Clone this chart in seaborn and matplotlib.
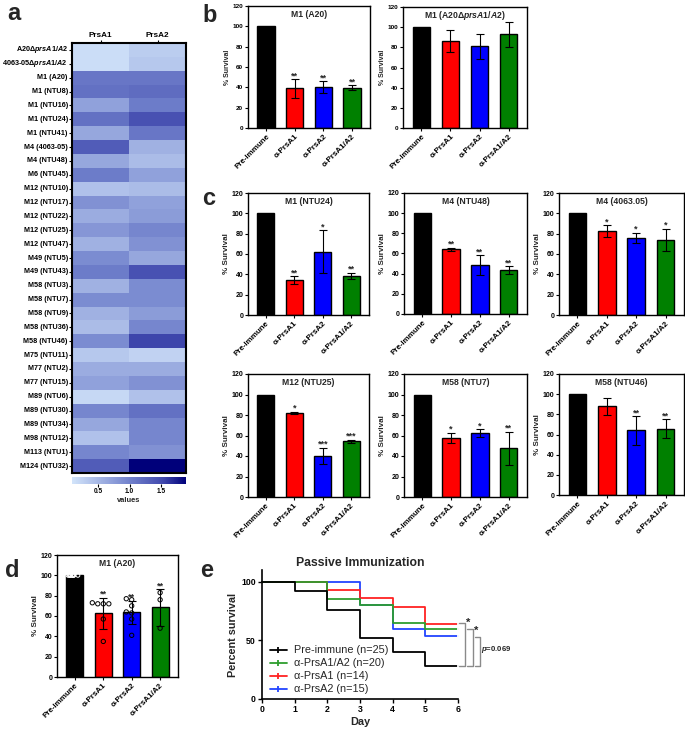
import numpy as np
import pandas as pd
import matplotlib
matplotlib.use("Agg")
import matplotlib.pyplot as plt
import seaborn as sns
from matplotlib.colors import LinearSegmentedColormap
from matplotlib.lines import Line2D

sns.set_style("ticks")
plt.rcParams.update({
    "font.family": ["Liberation Sans", "DejaVu Sans"],
    "font.weight": "bold",
    "axes.labelweight": "bold",
    "mathtext.fontset": "custom",
    "mathtext.rm": "Liberation Sans:bold",
    "mathtext.it": "Liberation Sans:italic:bold",
    "mathtext.bf": "Liberation Sans:bold",
    "axes.linewidth": 1.0,
    "axes.edgecolor": "black",
    "xtick.color": "black",
    "ytick.color": "black",
})

# ---------------- Panel a data ----------------
strains = ["A20Δ$\\mathit{prsA1/A2}$", "4063-05Δ$\\mathit{prsA1/A2}$", "M1 (A20)", "M1 (NTU8)",
           "M1 (NTU16)", "M1 (NTU24)", "M1 (NTU41)", "M4 (4063-05)", "M4 (NTU48)", "M6 (NTU45)",
           "M12 (NTU10)", "M12 (NTU17)", "M12 (NTU22)", "M12 (NTU25)", "M12 (NTU47)",
           "M49 (NTU5)", "M49 (NTU43)", "M58 (NTU3)", "M58 (NTU7)", "M58 (NTU9)",
           "M58 (NTU36)", "M58 (NTU46)", "M75 (NTU11)", "M77 (NTU2)", "M77 (NTU15)",
           "M89 (NTU6)", "M89 (NTU30)", "M89 (NTU34)", "M98 (NTU12)", "M113 (NTU1)",
           "M124 (NTU32)"]
prsa1_vals = [0.15, 0.15, 1.10, 1.15, 0.70, 1.15, 0.65, 1.35, 0.65, 1.05,
              0.40, 0.85, 0.60, 0.80, 0.55, 0.90, 1.05, 0.55, 0.90, 0.55,
              0.45, 0.90, 0.35, 0.60, 0.70, 0.20, 0.95, 0.65, 0.40, 0.95, 1.35]
prsa2_vals = [0.30, 0.35, 1.10, 1.20, 1.05, 1.45, 1.10, 0.55, 0.45, 0.70,
              0.45, 0.70, 0.75, 0.95, 0.85, 0.65, 1.45, 0.90, 0.90, 0.75,
              0.95, 1.55, 0.25, 0.60, 0.85, 0.40, 1.15, 0.95, 0.95, 0.85, 1.90]
heat_cols = ["PrsA1", "PrsA2"]
cbar_ticks = [0.5, 1.0, 1.5]

# ---------------- Bar panels data ----------------
groups = ["Pre-immune", "α-PrsA1", "α-PrsA2", "α-PrsA1/A2"]
bar_colors = ["#000000", "#ff0000", "#0000ff", "#008000"]

b1_title = "M1 (A20)"
b1_mean = [100, 39, 40, 39.5]
b1_err = [0, 9, 6, 2.5]
b1_sig = ["", "**", "**", "**"]

b2_title = "M1 (A20Δ$\\mathit{prsA1/A2}$)"
b2_mean = [100, 86, 81, 93]
b2_err = [0, 11, 12.5, 12.5]
b2_sig = ["", "", "", ""]

c1_title = "M1 (NTU24)"
c1_mean = [100, 34.3, 62.3, 38.5]
c1_err = [0, 3.7, 21, 3]
c1_sig = ["", "**", "*", "**"]

c2_title = "M4 (NTU48)"
c2_mean = [100, 64.3, 48.4, 43.7]
c2_err = [0, 1.5, 10, 3.8]
c2_sig = ["", "**", "**", "**"]

c3_title = "M4 (4063.05)"
c3_mean = [100, 82.6, 76, 74]
c3_err = [0, 5.5, 5, 11]
c3_sig = ["", "*", "*", "*"]

c4_title = "M12 (NTU25)"
c4_mean = [100, 82, 40.2, 54.2]
c4_err = [0, 1, 8, 1.5]
c4_sig = ["", "*", "***", "***"]

c5_title = "M58 (NTU7)"
c5_mean = [100, 57.5, 62.5, 47.4]
c5_err = [0, 5.3, 3.5, 16.5]
c5_sig = ["", "*", "*", "**"]

c6_title = "M58 (NTU46)"
c6_mean = [100, 87.8, 64, 65.6]
c6_err = [0, 8, 14, 9.5]
c6_sig = ["", "", "**", "**"]

d_title = "M1 (A20)"
d_mean = [100, 62.7, 63.5, 68.5]
d_err = [0, 15, 11.5, 18]
d_sig = ["", "**", "**", "**"]
d_pre_pts = [100, 100, 100, 100, 100, 100, 100, 100, 100]
d_a1_pts = [72, 72, 72, 73, 57, 35]
d_a2_pts = [77, 76, 70, 64, 63, 57, 41]
d_a12_pts = [83, 76, 48]

# ---------------- Panel e data ----------------
days = [0, 1, 2, 3, 4, 5, 6]
surv_pre = [100, 92, 76, 52, 40, 28, 28]
surv_a12 = [100, 100, 85, 80, 65, 60, 60]
surv_a1 = [100, 100, 92.9, 85.7, 78.6, 64.3, 64.3]
surv_a2 = [100, 100, 100, 80, 60, 53.3, 53.3]
e_labels = ["Pre-immune (n=25)", "α-PrsA1/A2 (n=20)", "α-PrsA1 (n=14)", "α-PrsA2 (n=15)"]
e_colors = ["#000000", "#2e9e2e", "#ff2222", "#2244ff"]

W, H = 685, 732
fig = plt.figure(figsize=(W / 100, H / 100), dpi=100)


def add_ax(l, t, r, b):
    return fig.add_axes([l / W, 1 - b / H, (r - l) / W, (b - t) / H])


# ---------------- Panel a ----------------
ax_a = add_ax(72, 43, 186, 473)
cax = add_ax(72, 477, 186, 484)
cmap = LinearSegmentedColormap.from_list(
    "bl", [(0.0, "#d2e4fa"), (0.5, "#7282cc"), (0.8, "#4048ad"), (1.0, "#00007a")])
heat_df = pd.DataFrame({"PrsA1": prsa1_vals, "PrsA2": prsa2_vals}, index=strains)
sns.heatmap(heat_df, ax=ax_a, cmap=cmap, vmin=0.08, vmax=1.9, cbar_ax=cax,
            cbar_kws={"orientation": "horizontal", "ticks": cbar_ticks},
            xticklabels=heat_cols, yticklabels=strains)
for s in ax_a.spines.values():
    s.set_visible(True)
    s.set_linewidth(1.5)
ax_a.xaxis.tick_top()
ax_a.tick_params(axis="x", labelsize=5.9, length=2, width=0.8, pad=1)
ax_a.tick_params(axis="y", labelsize=5.2, length=2, width=0.8, pad=1)
plt.setp(ax_a.get_yticklabels(), rotation=0, fontweight="bold")
plt.setp(ax_a.get_xticklabels(), rotation=0, fontweight="bold")
ax_a.set_xlabel("")
ax_a.set_ylabel("")
cax.tick_params(labelsize=4.7, length=2, width=0.8, pad=1)
cax.set_xlabel("values", fontsize=5.4, fontweight="bold", labelpad=1)
cax.xaxis.set_label_position("bottom")


# ---------------- Bar panels ----------------
def bar_panel(rect, title, mean, err, sig, ytick_fs=5.0, lab_fs=5.8, xt_fs=5.8,
              title_fs=6.2, points=None):
    ax = add_ax(*rect)
    df = pd.DataFrame({"group": groups, "mean": mean})
    sns.barplot(data=df, x="group", y="mean", hue="group", palette=bar_colors,
                order=groups, hue_order=groups, width=0.6, edgecolor="black",
                linewidth=1.0, saturation=1, errorbar=None, legend=False, ax=ax)
    ax.errorbar(x=[1, 2, 3], y=mean[1:], yerr=err[1:], fmt="none", ecolor="black",
                elinewidth=0.8, capsize=3, capthick=0.8, zorder=5)
    if points is not None:
        n0 = len(ax.collections)
        pdf = pd.DataFrame({"group": [g for g, pts in zip(groups, points) for _ in pts],
                            "val": [v for pts in points for v in pts]})
        np.random.seed(1)
        sns.stripplot(data=pdf[pdf.group == groups[0]], x="group", y="val", order=groups,
                      jitter=0.24, size=2.8, color="black", ax=ax, zorder=6)
        sns.swarmplot(data=pdf[pdf.group != groups[0]], x="group", y="val", order=groups,
                      size=3.1, color="black", ax=ax, zorder=6)
        for k, coll in enumerate(ax.collections[n0:]):
            coll.set_facecolor("none")
            coll.set_edgecolor("white" if k == 0 else "black")
            coll.set_linewidth(0.7)
    for i in range(1, 4):
        if sig[i]:
            ax.text(i, mean[i] + err[i] - 1.0, sig[i], ha="center", va="bottom",
                    fontsize=6.5, fontweight="bold")
    ax.set_xlim(-0.63, 3.63)
    ax.set_ylim(0, 120)
    ax.set_yticks([0, 20, 40, 60, 80, 100, 120])
    ax.set_xlabel("")
    ax.set_ylabel("% Survival", fontsize=lab_fs, fontweight="bold", labelpad=1)
    ax.tick_params(axis="y", labelsize=ytick_fs, length=2.5, width=0.8, pad=1)
    ax.tick_params(axis="x", length=2.5, width=0.8, pad=1)
    ax.set_xticks(range(4))
    ax.set_xticklabels(groups, rotation=45, ha="right", rotation_mode="anchor",
                       fontsize=xt_fs, fontweight="bold")
    for s in ax.spines.values():
        s.set_visible(True)
        s.set_linewidth(1.0)
    ax.text(1.5, 112, title, ha="center", va="center", fontsize=title_fs, fontweight="bold")
    return ax


bar_panel((248, 6, 370, 128), b1_title, b1_mean, b1_err, b1_sig, ytick_fs=4.6, lab_fs=5.0)
bar_panel((403, 7, 527, 128), b2_title, b2_mean, b2_err, b2_sig, ytick_fs=4.6, lab_fs=5.0)
bar_panel((248, 193, 369, 315), c1_title, c1_mean, c1_err, c1_sig)
bar_panel((404, 193, 527, 314), c2_title, c2_mean, c2_err, c2_sig)
bar_panel((559, 193, 684, 315), c3_title, c3_mean, c3_err, c3_sig)
bar_panel((248, 374, 369, 497), c4_title, c4_mean, c4_err, c4_sig)
bar_panel((404, 374, 527, 497), c5_title, c5_mean, c5_err, c5_sig)
bar_panel((559, 374, 684, 495), c6_title, c6_mean, c6_err, c6_sig)
bar_panel((57, 555, 178, 677), d_title, d_mean, d_err, d_sig,
          points=[d_pre_pts, d_a1_pts, d_a2_pts, d_a12_pts])

# ---------------- Panel e ----------------
ax_e = add_ax(262, 570, 458, 699)
e_series = [surv_pre, surv_a12, surv_a1, surv_a2]
e_df = pd.DataFrame({"day": days * 4,
                     "surv": [v for s in e_series for v in s],
                     "group": [lab for lab in e_labels for _ in days]})
draw_order = [e_labels[3], e_labels[2], e_labels[1], e_labels[0]]
pal = dict(zip(e_labels, e_colors))
sns.lineplot(data=e_df, x="day", y="surv", hue="group", hue_order=draw_order,
             palette=pal, drawstyle="steps-post", errorbar=None, linewidth=1.3,
             legend=False, ax=ax_e)
for ln in ax_e.lines:
    ln.set_marker("|")
    ln.set_markevery([6])
    ln.set_markersize(4)
    ln.set_markeredgewidth(1.3)
    ln.set_clip_on(False)
ax_e.set_xlim(0, 6)
ax_e.set_ylim(0, 110)
ax_e.set_xticks(days)
ax_e.set_yticks([0, 50, 100])
sns.despine(ax=ax_e)
ax_e.spines["left"].set_linewidth(1.2)
ax_e.spines["bottom"].set_linewidth(1.2)
ax_e.tick_params(labelsize=6.3, length=3, width=1.0, pad=1.5)
ax_e.set_xlabel("Day", fontsize=7.8, fontweight="bold", labelpad=2)
ax_e.set_ylabel("Percent survival", fontsize=7.8, fontweight="bold", labelpad=2)
ax_e.set_title("Passive Immunization", fontsize=8.8, fontweight="bold", pad=3)
handles = [Line2D([0], [0], color=c, lw=1.3, marker="|", markersize=4,
                  markeredgewidth=1.3) for c in e_colors]
leg = ax_e.legend(handles, e_labels, loc="lower left", bbox_to_anchor=(-0.01, -0.04),
                  frameon=False, handlelength=1.6, handletextpad=0.6, labelspacing=0.28,
                  numpoints=1, prop={"size": 7.8, "weight": "normal"})
# significance brackets
br_col = "#8a8a8a"
for x0, x1, ytop, ybot in [(6.03, 6.2, 65, 28), (6.27, 6.45, 60, 28), (6.52, 6.67, 53, 28)]:
    ax_e.plot([x0, x1, x1, x0], [ytop, ytop, ybot, ybot], color=br_col, lw=1.0, clip_on=False)
ax_e.text(6.24, 65, "*", fontsize=8, fontweight="bold", va="center", ha="left", clip_on=False)
ax_e.text(6.49, 58.5, "*", fontsize=8, fontweight="bold", va="center", ha="left", clip_on=False)
ax_e.text(6.71, 42, "$\\mathit{p}$=0.069", fontsize=5.6, fontweight="bold", va="center",
          ha="left", clip_on=False)

# ---------------- Panel letters ----------------
for lab, x, y in [("a", 7, 20), ("b", 202, 22), ("c", 202, 205), ("d", 5, 577), ("e", 200, 577)]:
    fig.text(x / W, 1 - y / H, lab, fontsize=17, fontweight="bold", va="baseline", ha="left")

fig.savefig("out.png", dpi=100)
